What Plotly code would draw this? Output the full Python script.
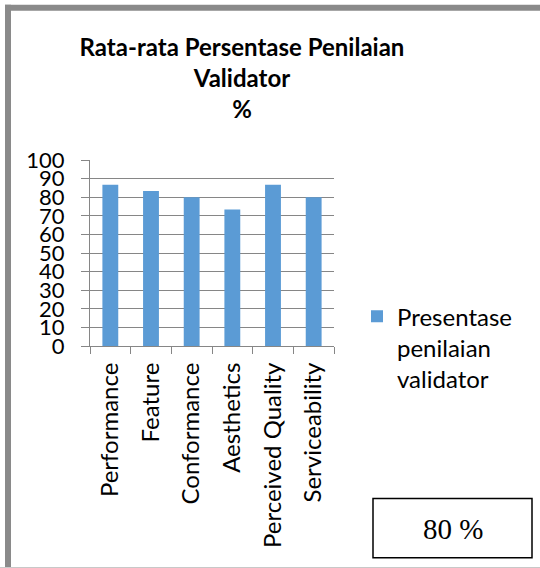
import plotly.graph_objects as go

categories = ["Performance", "Feature", "Conformance", "Aesthetics", "Perceived Quality", "Serviceability"]
values = [86.67, 83.33, 80.0, 73.33, 86.67, 80.0]
series_name = "Presentase<br>penilaian<br>validator"
y_ticks = [0, 10, 20, 30, 40, 50, 60, 70, 80, 90, 100]
summary_text = "80 %"
title_text = "Rata-rata Persentase Penilaian<br>Validator<br>%"

W, H = 540, 568
L, R, T, B = 90, 334, 160, 345.7

def px(x):
    return (x - L) / (R - L)

def py(y):
    return (B - y) / (B - T)

GRAY = "#868686"
FONT = "Lato"

fig = go.Figure()
fig.add_trace(go.Bar(x=categories, y=values, name=series_name,
                     marker=dict(color="#5B9BD5", line=dict(width=0))))

fig.update_layout(
    width=W, height=H, autosize=False,
    margin=dict(l=L, r=W - R, t=T, b=H - B, pad=0),
    paper_bgcolor="white", plot_bgcolor="white",
    bargap=0.61,
    font=dict(family=FONT, color="black"),
    title=dict(text=title_text, x=242 / W, xanchor="center",
               y=1 - 56 / H, yanchor="top",
               font=dict(family=FONT, size=24, color="black", weight="bold")),
    showlegend=True,
    legend=dict(x=px(357), xanchor="left", y=py(294), yanchor="top",
                valign="top", font=dict(family=FONT, size=24, color="black"),
                bgcolor="rgba(0,0,0,0)", itemwidth=30),
    xaxis=dict(type="category", showline=True, linecolor=GRAY, linewidth=1,
               ticks="outside", tickson="boundaries", ticklen=7, tickcolor=GRAY,
               tickangle=-90, tickfont=dict(family=FONT, size=24, color="black"),
               ticklabelstandoff=6,
               showgrid=False, automargin=False),
    yaxis=dict(range=[0, 100], tickvals=y_ticks, showline=True, linecolor=GRAY,
               linewidth=1, ticks="outside", ticklen=8, tickcolor=GRAY,
               showgrid=True, gridcolor=GRAY, gridwidth=1, zeroline=False,
               tickfont=dict(family=FONT, size=22, color="black"),
               ticklabelstandoff=12,
               automargin=False),
)

shapes = [
    # outer frame
    dict(type="line", xref="paper", yref="paper", x0=px(8), x1=px(8),
         y0=py(5), y1=py(567), line=dict(color="#8a8a8a", width=6)),
    dict(type="line", xref="paper", yref="paper", x0=px(5), x1=px(545),
         y0=py(8), y1=py(8), line=dict(color="#8a8a8a", width=6)),
    dict(type="line", xref="paper", yref="paper", x0=px(0), x1=px(545),
         y0=py(567), y1=py(567), line=dict(color="#c8c8c8", width=1.5)),
    # summary box
    dict(type="rect", xref="paper", yref="paper", x0=px(373), x1=px(532),
         y0=py(557), y1=py(498), line=dict(color="black", width=1.5),
         fillcolor="white"),
]
fig.update_layout(shapes=shapes)

fig.add_annotation(text=summary_text, xref="paper", yref="paper",
                   x=px(452.5), y=py(528), xanchor="center", yanchor="middle",
                   showarrow=False,
                   font=dict(family="Liberation Serif", size=29, color="black"))

fig.write_html("out.html")
